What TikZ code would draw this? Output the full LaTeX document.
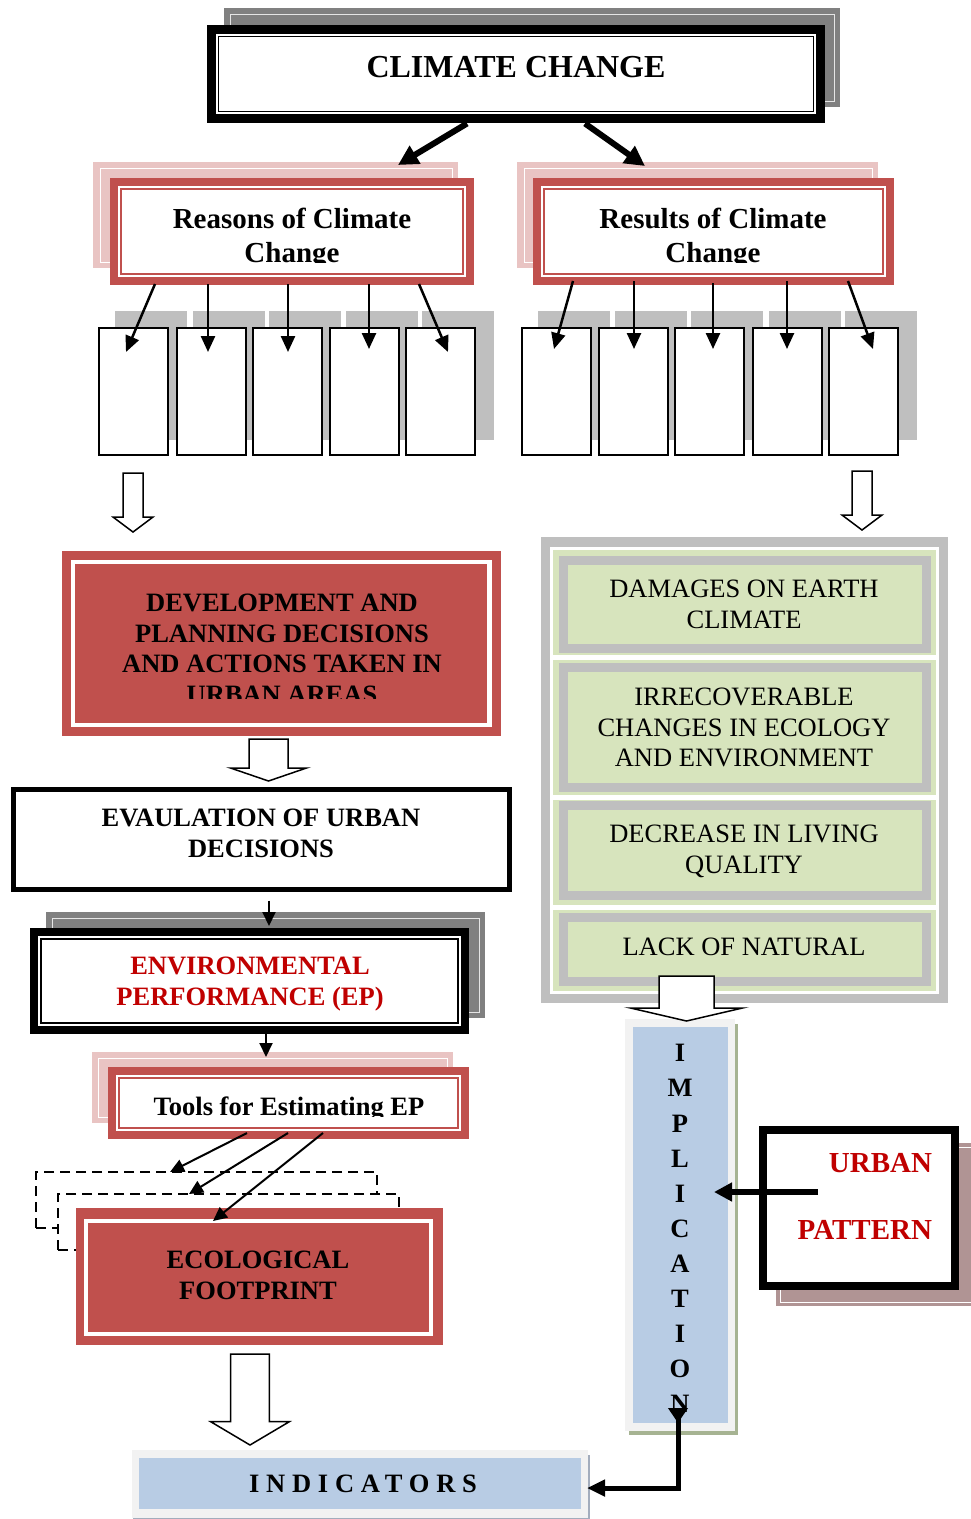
\documentclass[tikz,border=0pt]{standalone}
\usepackage{fontspec}
\setmainfont{Liberation Serif}
\usetikzlibrary{arrows.meta}
\definecolor{redbox}{HTML}{C0504D}
\definecolor{pinkshadow}{HTML}{E9C4C3}
\definecolor{greenbox}{HTML}{D7E4BD}
\definecolor{bluebox}{HTML}{B8CCE4}
\definecolor{lightgr}{HTML}{F2F2F2}
\definecolor{shadowgr}{HTML}{BFBFBF}
\definecolor{darkgr}{HTML}{808080}
\definecolor{rosy}{HTML}{B09494}
\definecolor{redtext}{HTML}{C00000}
\definecolor{oliveedge}{HTML}{A6B392}
\definecolor{blueedge}{HTML}{A3ADBD}
\newcommand{\hollowdown}[6]{%
  \draw[line width=1.5pt, fill=white] (#1-#3,#2) -- (#1+#3,#2) -- (#1+#3,#4) -- (#1+#5,#4) -- (#1,#6) -- (#1-#5,#4) -- (#1-#3,#4) -- cycle;}
\tikzset{
  every node/.style={inner sep=0pt, outer sep=0pt},
  boldtext/.style={align=center, font=\bfseries\fontsize{26.5}{30.5}\selectfont},
  plaintext/.style={align=center, font=\fontsize{26.5}{30.5}\selectfont},
  thinarrow/.style={line width=2.5pt, -{Triangle[length=16pt,width=14pt]}},
  toolarrow/.style={line width=2pt, -{Triangle[length=14pt,width=13pt]}},
  bigarrow/.style={line width=6pt, -{Triangle[length=20pt,width=20pt]}},
  blackframe/.style={draw=black, fill=white},
  redframe/.style={draw=redbox, line width=8pt, fill=white},
  smallbox/.style={draw=black, line width=2pt, fill=white, minimum width=69pt, minimum height=127pt},
  dashbox/.style={draw=black, line width=2.5pt, dash pattern=on 10pt off 6pt, fill=white, minimum width=341pt, minimum height=56pt},
  greyblock/.style={draw=shadowgr, line width=9pt, fill=greenbox, minimum width=363pt},
}
\begin{document}
\begin{tikzpicture}[x=1pt,y=-1pt]
\useasboundingbox (0,0) rectangle (971,1519);

% ---------- CLIMATE CHANGE ----------
\fill[darkgr] (224,8) rectangle (840,107);
\draw[white!80!darkgr, line width=0.8pt] (230,14) rectangle (834,101);
\node[blackframe, line width=9pt, minimum width=609pt, minimum height=89pt] (cc) at (516,74) {};
\draw[line width=1.5pt] ([shift={(7,7)}]cc.north west) rectangle ([shift={(-7,-7)}]cc.south east);
\node[align=center, font=\bfseries\fontsize{32}{38}\selectfont] (cctext) at (516,67.5) {CLIMATE CHANGE};

% ---------- Reasons / Results ----------
\fill[pinkshadow] (93,162) rectangle (458,268);
\draw[white, line width=0.8pt] (100,168) rectangle (452,262);
\node[redframe, minimum width=356pt, minimum height=99pt] (reasons) at (292,231.5) {};
\draw[redbox, line width=1.5pt] ([shift={(7,7)}]reasons.north west) rectangle ([shift={(-7,-7)}]reasons.south east);
\begin{scope}
  \clip (118,188) rectangle (466,262.5);
  \node[align=center, font=\bfseries\fontsize{29}{34}\selectfont] (reasonstext) at (292,238) {Reasons of Climate\\Change};
\end{scope}

\fill[pinkshadow] (517,162) rectangle (878,268);
\draw[white, line width=0.8pt] (524,168) rectangle (872,262);
\node[redframe, minimum width=353pt, minimum height=99pt] (results) at (713.5,231.5) {};
\draw[redbox, line width=1.5pt] ([shift={(7,7)}]results.north west) rectangle ([shift={(-7,-7)}]results.south east);
\begin{scope}
  \clip (541,188) rectangle (886,262.5);
  \node[align=center, font=\bfseries\fontsize{29}{34}\selectfont] (resultstext) at (713,238) {Results of Climate\\Change};
\end{scope}

\draw[bigarrow] ([shift={(-49,5)}]cc.south) -- ([shift={(106,-17)}]reasons.north);
\draw[bigarrow] ([shift={(69,5)}]cc.south) -- ([shift={(-68.5,-16)}]results.north);

% ---------- small boxes ----------
\foreach \x in {98,176,252,329,405,521,598,674,752,828} {
  \fill[shadowgr] (\x+17,311) rectangle (\x+89,440);
}
\foreach \x [count=\i] in {98,176,252,329,405} {
  \node[smallbox] (lb\i) at (\x+35.5,391.5) {};
}
\foreach \x [count=\i] in {521,598,674,752,828} {
  \node[smallbox] (rb\i) at (\x+35.5,391.5) {};
}
\draw[thinarrow] ([shift={(-137,3)}]reasons.south) -- ([shift={(-7.5,24)}]lb1.north);
\draw[thinarrow] ([shift={(-84,3)}]reasons.south) -- ([shift={(-3.5,24)}]lb2.north);
\draw[thinarrow] ([shift={(-4,3)}]reasons.south) -- ([shift={(0.5,24)}]lb3.north);
\draw[thinarrow] ([shift={(77,3)}]reasons.south) -- ([shift={(4.5,21)}]lb4.north);
\draw[thinarrow] ([shift={(127,3)}]reasons.south) -- ([shift={(7.5,24)}]lb5.north);

\draw[thinarrow] ([shift={(-140.5,0)}]results.south) -- ([shift={(-2.5,21)}]rb1.north);
\draw[thinarrow] ([shift={(-79.5,0)}]results.south) -- ([shift={(0.5,21)}]rb2.north);
\draw[thinarrow] ([shift={(-0.5,2)}]results.south) -- ([shift={(3.5,21)}]rb3.north);
\draw[thinarrow] ([shift={(73.5,0)}]results.south) -- ([shift={(-0.5,21)}]rb4.north);
\draw[thinarrow] ([shift={(134.5,0)}]results.south) -- ([shift={(9.5,21)}]rb5.north);

\hollowdown{133}{473}{10}{517}{20}{532}
\hollowdown{862}{471}{10}{515}{20}{530}

% ---------- Development ----------
\node[fill=redbox, minimum width=439pt, minimum height=185pt] (dev) at (281.5,643.5) {};
\draw[white, line width=4.3pt] ([shift={(10.8,10.7)}]dev.north west) rectangle ([shift={(-11.5,-11)}]dev.south east);
\begin{scope}
  \clip (76,566) rectangle (487,698.5);
  \node[boldtext] (devtext) at (282,649) {DEVELOPMENT AND\\PLANNING DECISIONS\\AND ACTIONS TAKEN IN\\URBAN AREAS};
\end{scope}

\hollowdown{268.5}{739}{19.5}{768}{38}{781}

% ---------- Evaluation ----------
\node[blackframe, line width=5pt, minimum width=496pt, minimum height=100pt] (eval) at (261.5,839.5) {};
\node[boldtext] (evaltext) at (261,833.5) {EVAULATION OF URBAN\\DECISIONS};

% ---------- EP ----------
\fill[darkgr] (46,912) rectangle (485,1018);
\draw[white!80!darkgr, line width=0.8pt] (52,918) rectangle (479,1012);
\node[blackframe, line width=8pt, minimum width=431pt, minimum height=98pt] (ep) at (249.5,981) {};
\draw[line width=2pt] ([shift={(7,7)}]ep.north west) rectangle ([shift={(-7,-7)}]ep.south east);
\node[boldtext, text=redtext] (eptext) at (250,984) {ENVIRONMENTAL\\PERFORMANCE (EP)};
\draw[toolarrow] ([shift={(7.5,11)}]eval.south) -- ([shift={(19.5,-6)}]ep.north);

% ---------- Tools ----------
\fill[pinkshadow] (92,1052) rectangle (453,1123);
\draw[white, line width=0.8pt] (98,1058) rectangle (447,1117);
\node[redframe, minimum width=353pt, minimum height=64pt] (tools) at (288.5,1103) {};
\draw[redbox, line width=1.5pt] ([shift={(7,7)}]tools.north west) rectangle ([shift={(-7,-7)}]tools.south east);
\begin{scope}
  \clip (116,1078) rectangle (462,1116.5);
  \node[boldtext] (toolstext) at (289,1109) {Tools for Estimating EP};
\end{scope}
\draw[toolarrow] ([shift={(16.5,4)}]ep.south) -- ([shift={(-22.5,-14)}]tools.north);

% ---------- dashed boxes + Ecological footprint ----------
\node[dashbox] (d1) at (206.5,1200) {};
\node[dashbox] (d2) at (228.5,1222) {};
\node[fill=redbox, minimum width=367pt, minimum height=137pt] (eco) at (259.5,1276.5) {};
\draw[white, line width=4pt] ([shift={(10.3,12.5)}]eco.north west) rectangle ([shift={(-11.7,-11.5)}]eco.south east);
\node[boldtext] (ecotext) at (258,1275.5) {ECOLOGICAL\\FOOTPRINT};
\draw[toolarrow] ([shift={(-41.5,-2)}]tools.south) -- ([shift={(-36.5,0)}]d1.north);
\draw[toolarrow] ([shift={(-0.5,-2)}]tools.south) -- ([shift={(-39.5,0)}]d2.north);
\draw[toolarrow] ([shift={(34.5,-2)}]tools.south) -- ([shift={(-46.5,13)}]eco.north);

\hollowdown{250}{1354}{19.3}{1421.7}{39.3}{1445}

% ---------- Indicators ----------
\fill[lightgr] (132,1450) rectangle (588,1518);
\draw[blueedge, line width=1.5pt] (589,1455) -- (589,1518.5) -- (133,1518.5);
\node[fill=bluebox, minimum width=442pt, minimum height=51pt] (ind) at (360,1483.5) {};
\node[font=\bfseries\fontsize{26.5}{30}\selectfont\addfontfeature{LetterSpace=25.6}] (indtext) at (363,1484.2) {INDICATORS};

% ---------- right column ----------
\fill[shadowgr] (541,537) rectangle (948,1003);
\draw[white, line width=3pt, fill=greenbox] (551,548) rectangle (937,656.5);
\draw[white, line width=3pt, fill=greenbox] (551,658) rectangle (937,796);
\draw[white, line width=3pt, fill=greenbox] (551,798) rectangle (937,906.5);
\draw[white, line width=3pt, fill=greenbox] (551,908.5) rectangle (937,992.5);
\node[greyblock, minimum height=88pt] (g1) at (745,604.5) {};
\node[greyblock, minimum height=120pt] (g2) at (745,727.5) {};
\node[greyblock, minimum height=90pt] (g3) at (745,850.5) {};
\node[greyblock, minimum height=64pt] (g4) at (745,949.5) {};
\node[plaintext] (g1text) at (744,604.5) {DAMAGES ON EARTH\\CLIMATE};
\node[plaintext] (g2text) at (744,727.5) {IRRECOVERABLE\\CHANGES IN ECOLOGY\\AND ENVIRONMENT};
\node[plaintext] (g3text) at (744,851.3) {DECREASE IN LIVING\\QUALITY};
\node[plaintext] (g4text) at (744,947) {LACK OF NATURAL};

% ---------- Implication ----------
\fill[oliveedge] (629,1024) rectangle (737.5,1435);
\fill[lightgr] (625,1019) rectangle (735,1431);
\node[fill=bluebox, minimum width=95pt, minimum height=396pt] (impl) at (680.5,1225) {};
\node[align=center, font=\bfseries\fontsize{26.5}{35.1}\selectfont] (impltext) at (680,1228.7) {I\\M\\P\\L\\I\\C\\A\\T\\I\\O\\N};

\hollowdown{686.5}{976}{27.5}{1008}{56}{1021}

% ---------- Urban pattern ----------
\fill[rosy] (776,1143) rectangle (975,1306);
\draw[white, line width=0.8pt] (780,1147) rectangle (975,1302);
\node[blackframe, line width=8pt, minimum width=192pt, minimum height=156pt] (urban) at (859,1208) {};
\node[anchor=east, align=right, text=redtext, font=\bfseries\fontsize{29}{67}\selectfont] (urbantext) at (932,1196) {URBAN\\PATTERN};
\draw[line width=6pt, -{Triangle[length=18pt,width=18pt]}] ([shift={(-41,-16)}]urban.center) -- ([shift={(-14,-33)}]impl.east);

% ---------- Implication -> Indicators ----------
\draw[line width=5pt, {Triangle[reversed,length=15pt,width=19pt]}-{Triangle[length=18pt,width=16pt]}] ([shift={(-2.5,-15)}]impl.south) |- ([shift={(6,4.5)}]ind.east);

\end{tikzpicture}
\end{document}
